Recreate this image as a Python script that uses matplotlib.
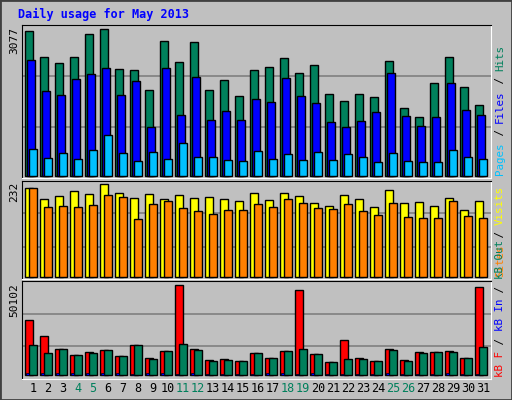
import numpy as np
import matplotlib
matplotlib.use("Agg")
import matplotlib.pyplot as plt
from matplotlib.patches import Rectangle

# ── Datos ───────────────────────────────────────────────────────────────────
days = list(range(1, 32))
weekend = [4, 5, 11, 12, 18, 19, 25, 26]

hits = [3035, 2490, 2364, 2490, 2972, 3077, 2238, 2217, 1797, 2825, 2385, 2804,
        1797, 2007, 1671, 2217, 2280, 2469, 2154, 2322, 1713, 1566, 1713, 1650,
        2406, 1420, 1231, 1944, 2490, 1860, 1483]
files = [2427, 1776, 1692, 2028, 2133, 2259, 1692, 1986, 1021, 2259, 1273, 2070,
         1168, 1357, 1168, 1608, 1545, 2049, 1671, 1524, 1126, 1021, 1147, 1336,
         2154, 1252, 1042, 1231, 1944, 1378, 1273]
pages = [559, 371, 476, 350, 538, 853, 476, 308, 497, 350, 685, 392, 392, 329,
         308, 517, 350, 455, 329, 497, 329, 455, 392, 287, 476, 308, 287, 287,
         538, 392, 350]

visits = [224, 194, 202, 214, 207, 232, 209, 197, 207, 194, 204, 197, 199, 194,
          189, 209, 192, 209, 202, 184, 177, 204, 194, 174, 217, 184, 187, 177,
          197, 167, 189]
sites = [224, 174, 177, 174, 179, 204, 199, 144, 182, 189, 172, 164, 157, 167,
         167, 182, 174, 194, 184, 172, 169, 182, 164, 154, 184, 149, 147, 147,
         189, 152, 147]

kb_f = [30280, 21470, 14310, 11010, 12660, 13760, 10460, 16520, 9360, 13210,
        50102, 14310, 8260, 8810, 7710, 12110, 9360, 13210, 47350, 11560, 7160,
        19270, 9360, 7710, 14310, 8260, 12660, 12660, 13210, 9360, 49000]
kb_in = [1400, 1400, 1400, 1400, 1500, 1400, 1100, 1000, 1100, 1500, 1000, 1400,
         1000, 1000, 1000, 1000, 1400, 1500, 1000, 1500, 1000, 1000, 1000, 1000,
         1400, 1000, 600, 1000, 1500, 1000, 1000]
kb_out = [16520, 12110, 14310, 11010, 12110, 13760, 10460, 16520, 8810, 13210,
          17070, 13760, 7710, 8260, 7710, 12110, 9360, 13210, 14310, 11560, 7160,
          8810, 8810, 7710, 13760, 7710, 12110, 12660, 12660, 9360, 15410]

BG = "#C0C0C0"
GREEN = "#00805C"
MONO = "DejaVu Sans Mono"

W, H = 512, 400
fig = plt.figure(figsize=(W / 100, H / 100), dpi=100, facecolor=BG)


def px_axes(left, top, right, bottom):
    return fig.add_axes([left / W, 1 - bottom / H, (right - left) / W, (bottom - top) / H])


XL, XR = 22, 491
xlim = (1 - (25.3 - XL) / 15, 1 + (XR - 25.3) / 15)
x = np.array(days, dtype=float)
bw = 0.5
off = 2 / 15


def setup(ax, ylim, grid):
    ax.set_facecolor(BG)
    ax.set_xlim(*xlim)
    ax.set_ylim(*ylim)
    for g in grid:
        ax.axhline(g, color="#808080", lw=1.2, zorder=0)
    ax.set_xticks([]); ax.set_yticks([])
    for s in ("top", "left"):
        ax.spines[s].set_color("black")
    for s in ("bottom", "right"):
        ax.spines[s].set_color("white")


kw = dict(align="edge", edgecolor="black", linewidth=1, zorder=2)

# Panel superior: hits / files / pages
ax1 = px_axes(XL, 25.3, XR, 178)
setup(ax1, (-42, 3162), [2098, 1022])
ax1.bar(x, hits, bw, color=GREEN, **kw)
ax1.bar(x + off, files, bw, color="#0000FF", **kw)
ax1.bar(x + 2 * off, pages, bw, color="#00C0FF", **kw)

# Panel central: visits / sites
ax2 = px_axes(XL, 180.5, XR, 279)
setup(ax2, (-5.8, 241.6), [159, 75])
ax2.bar(x, visits, bw, color="#FFFF00", **kw)
ax2.bar(x + 2 * off, sites, bw, color="#FF8000", **kw)

# Panel inferior: kB
ax3 = px_axes(XL, 281, XR, 379)
setup(ax3, (-2037, 52087), [34137, 16133])
ax3.bar(x, kb_f, bw, color="#FF0000", **kw)
ax3.bar(x + 0.07, kb_in, 0.17, color="#0000FF", align="edge", edgecolor="black",
        linewidth=0.5, zorder=3)
ax3.bar(x + 2 * off, kb_out, bw, color=GREEN, **kw)

# Etiquetas de días
for d in days:
    fig.text((25.3 + 15 * (d - 1) + 7.5) / W, 1 - 389 / H, str(d),
             color=GREEN if d in weekend else "black",
             ha="center", va="center", fontsize=8.5, family=MONO)

# Título
fig.text(18 / W, 1 - 14 / H, "Daily usage for May 2013", color="#0000FF",
         fontsize=8.5, fontweight="bold", family=MONO, va="center")

# Máximos a la izquierda
for lab, top in (("3077", 27), ("232", 182), ("50102", 283)):
    fig.text(14 / W, 1 - top / H, lab, rotation=90, rotation_mode="anchor",
             ha="right", va="center", fontsize=8, family=MONO)

# Leyendas verticales a la derecha (de abajo arriba)
FS = 7.8
CH = 0.602 * FS * 100 / 72


def vlegend(bottom, parts):
    y = bottom
    for txt, col in parts:
        fig.text(500 / W, 1 - y / H, txt, color=col, rotation=90,
                 rotation_mode="anchor", ha="left", va="center",
                 fontsize=FS, family=MONO)
        y -= CH * len(txt)


vlegend(175, [("Pages", "#00C0FF"), (" / ", "black"), ("Files", "#0000FF"),
              (" / ", "black"), ("Hits", GREEN)])
vlegend(277, [("Sites", "#FF8000"), (" / ", "black"), ("Visits", "#FFFF00")])
vlegend(377, [("kB F", "#FF0000"), (" / ", "black"), ("kB In", "#0000FF"),
              (" / ", "black"), ("kB Out", GREEN)])

# Borde exterior
fig.patches.append(Rectangle((0, 0), 1, 1, transform=fig.transFigure,
                             fill=False, edgecolor="#404040", lw=2))

fig.savefig("out.png", dpi=100, facecolor=BG)
